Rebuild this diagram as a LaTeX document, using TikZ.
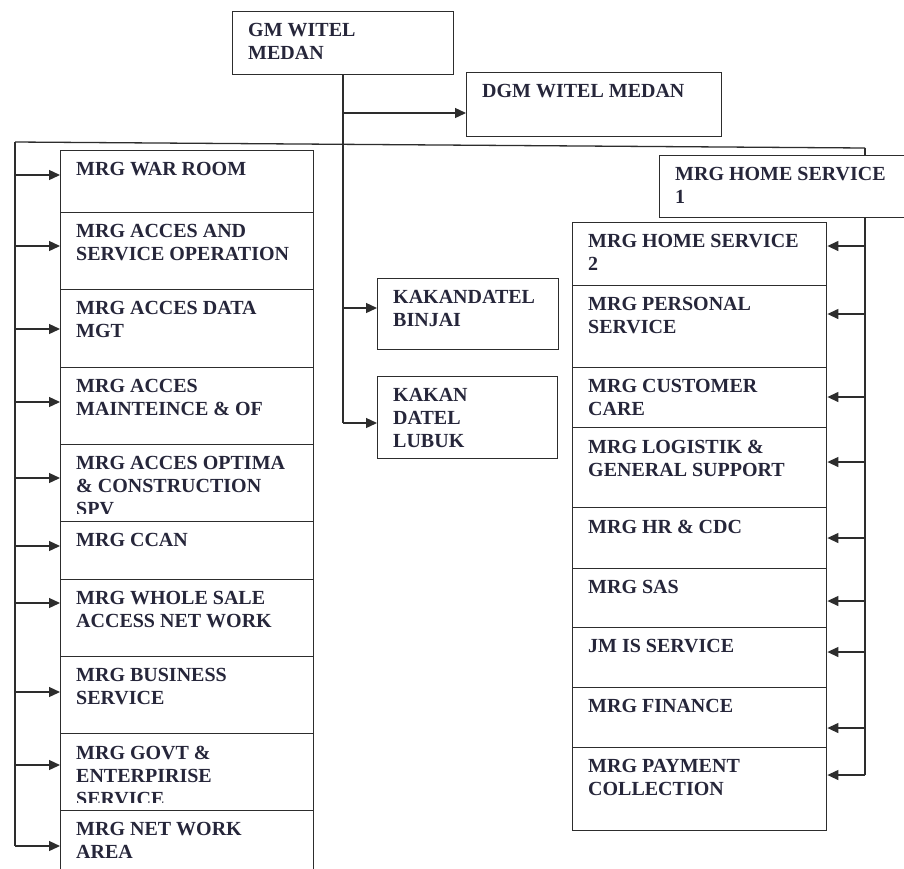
\documentclass[tikz,border=0pt]{standalone}
\usepackage{fontspec}
\setmainfont{Liberation Serif}
\newfontfamily\orgfont{Liberation Serif}
\usetikzlibrary{arrows.meta,calc}
\definecolor{ink}{RGB}{38,38,58}
\definecolor{linec}{RGB}{45,45,45}
\tikzset{
  orgbox/.style={draw=linec, line width=1.4pt, fill=white, inner sep=0pt, anchor=north west},
  txt/.style={inner sep=0pt, anchor=north west, align=left, text=ink,
    font=\orgfont\fontsize{20}{23}\selectfont\bfseries},
  conn/.style={draw=linec, line width=1.3pt},
  arr/.style={conn, -{Triangle[length=11pt,width=10pt]}}
}
\newcommand\orgbx[6]{%
  \node[orgbox, minimum width=#4pt, minimum height=#5pt] (#1) at (#2,#3) {};
  \begin{scope}
    \clip (#2,#3) rectangle ++(#4,#5-8);
    \node[txt] (#1t) at (#2+16,#3+12.5) {#6};
  \end{scope}}
\begin{document}
\begin{tikzpicture}[x=1pt,y=-1pt]
\useasboundingbox[fill=white] (0,0) rectangle (904,868);
% connector rails
\coordinate (tl) at (15,142);
\coordinate (tr) at (865,148);
\coordinate (lb) at (15,846);
\coordinate (rb) at (865,775);
\coordinate (mb) at (343,423);
\coordinate (gmb) at (343,74);
\draw[conn] (tl) -- (tr);
\draw[conn] (tl) -- (lb);
\draw[conn] (tr) -- (rb);
\draw[conn] (gmb) -- (mb);
% boxes
\orgbx{gm}{232}{11}{221}{63}{GM WITEL\\MEDAN}
\orgbx{dgm}{466}{72}{255}{64}{DGM WITEL MEDAN}
\orgbx{hs1}{659}{155}{260}{62}{MRG HOME SERVICE\\1}
\orgbx{k1}{377}{278}{181}{71}{KAKANDATEL\\BINJAI}
\orgbx{k2}{377}{376}{180}{82}{KAKAN\\DATEL\\LUBUK}
% left column
\orgbx{l1}{60}{150}{253}{62}{MRG WAR ROOM}
\orgbx{l2}{60}{212}{253}{77}{MRG ACCES AND\\SERVICE OPERATION}
\orgbx{l3}{60}{289}{253}{78}{MRG ACCES DATA\\MGT}
\orgbx{l4}{60}{367}{253}{77}{MRG ACCES\\MAINTEINCE \& OF}
\orgbx{l5}{60}{444}{253}{77}{MRG ACCES OPTIMA\\\& CONSTRUCTION\\SPV}
\orgbx{l6}{60}{521}{253}{58}{MRG CCAN}
\orgbx{l7}{60}{579}{253}{77}{MRG WHOLE SALE\\ACCESS NET WORK}
\orgbx{l8}{60}{656}{253}{77}{MRG BUSINESS\\SERVICE}
\orgbx{l9}{60}{733}{253}{77}{MRG GOVT \&\\ENTERPIRISE\\SERVICE}
\orgbx{l10}{60}{810}{253}{75}{MRG NET WORK\\AREA}
% right column
\orgbx{r1}{572}{222}{254}{63}{MRG HOME SERVICE\\2}
\orgbx{r2}{572}{285}{254}{82}{MRG PERSONAL\\SERVICE}
\orgbx{r3}{572}{367}{254}{60}{MRG CUSTOMER\\CARE}
\orgbx{r4}{572}{427}{254}{80}{MRG LOGISTIK \&\\GENERAL SUPPORT}
\orgbx{r5}{572}{507}{254}{61}{MRG HR \& CDC}
\orgbx{r6}{572}{568}{254}{59}{MRG SAS}
\orgbx{r7}{572}{627}{254}{60}{JM IS SERVICE}
\orgbx{r8}{572}{687}{254}{60}{MRG FINANCE}
\orgbx{r9}{572}{747}{254}{83}{MRG PAYMENT\\COLLECTION}
% arrows from centre stem
\coordinate (sd) at (343,113);
\coordinate (s1) at (343,308);
\coordinate (s2) at (343,423);
\draw[arr] (sd) -- (sd -| dgm.west);
\draw[arr] (s1) -- (s1 -| k1.west);
\draw[arr] (s2) -- (s2 -| k2.west);
% arrows from left rail
\foreach \n/\y in {l1/175,l2/246,l3/329,l4/402,l5/478,l6/546,l7/603,l8/692,l9/765,l10/846}{
  \coordinate (a\n) at (15,\y);
  \draw[arr] (a\n) -- (a\n -| \n.west);
}
% arrows from right rail
\foreach \n/\y in {r1/246,r2/314,r3/397,r4/462,r5/538,r6/601,r7/652,r8/728,r9/775}{
  \coordinate (a\n) at (865,\y);
  \draw[arr] (a\n) -- (a\n -| \n.east);
}
\end{tikzpicture}
\end{document}
